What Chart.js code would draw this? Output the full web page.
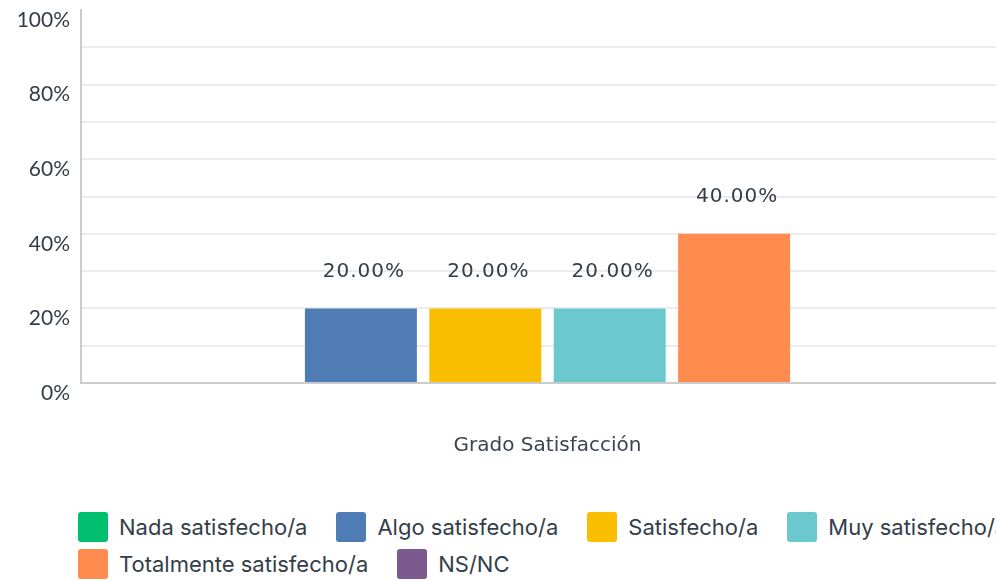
<!DOCTYPE html>
<html lang="es">
<head>
  <meta charset="UTF-8"/>
  <title>Grado Satisfacción</title>
  <style>
    html, body { margin: 0; padding: 0; background: #fff; overflow: hidden; }
    .wrap { position: relative; width: 1030px; height: 580px; }
    #chart { position: absolute; left: 0; top: 0; }
    .legend { position: absolute; left: 78px; top: 512px; width: 952px; display: flex; flex-wrap: wrap; row-gap: 7px; column-gap: 29px;
      font-family: Inter, 'Noto Sans', sans-serif; font-size: 22px; color: #333e48; }
    .legend .item { display: flex; align-items: center; height: 30px; white-space: nowrap; }
    .legend .box { width: 30px; height: 30px; border-radius: 3px; margin-right: 11px; }
  </style>
  <script src="https://cdn.jsdelivr.net/npm/chart.js"></script>
</head>
<body>
  <div class="wrap">
    <canvas id="chart" width="1030" height="458"></canvas>
    <div class="legend" id="legend"></div>
  </div>

  <script>
    const categories = ['Grado Satisfacción'];
    const seriesNames = ['Nada satisfecho/a', 'Algo satisfecho/a', 'Satisfecho/a', 'Muy satisfecho/a', 'Totalmente satisfecho/a', 'NS/NC'];
    const seriesValues = [0, 20, 20, 20, 40, 0];
    const seriesColors = ['#00bf6f', '#507cb6', '#f9be00', '#6bc8cd', '#ff8b4f', '#7d5a8d'];
    const yTicks = [0, 20, 40, 60, 80, 100];

    const textColor = '#333e48';

    // value labels above each bar
    const valueLabels = {
      id: 'valueLabels',
      afterDatasetsDraw(chart) {
        const ctx = chart.ctx;
        ctx.save();
        ctx.font = '20px "DejaVu Sans", sans-serif';
        ctx.letterSpacing = '1px';
        ctx.fillStyle = textColor;
        ctx.textAlign = 'center';
        ctx.textBaseline = 'middle';
        chart.data.datasets.forEach((ds, i) => {
          const v = ds.data[0];
          if (!v) return;
          const bar = chart.getDatasetMeta(i).data[0];
          ctx.fillText(v.toFixed(2) + '%', bar.x + 3, bar.y - 37);
        });
        ctx.restore();
      }
    };

    new Chart(document.getElementById('chart'), {
      type: 'bar',
      data: {
        labels: [''],
        datasets: seriesNames.map((name, i) => ({
          label: name,
          data: [seriesValues[i]],
          backgroundColor: seriesColors[i],
          borderWidth: 0,
          categoryPercentage: 0.8,
          barPercentage: 0.9
        }))
      },
      options: {
        responsive: false,
        animation: false,
        layout: { padding: { top: 10, right: 16, bottom: 0, left: 0 } },
        plugins: { legend: { display: false }, tooltip: { enabled: false } },
        scales: {
          x: {
            grid: { display: false },
            border: { color: '#cccccc', width: 2 },
            ticks: { display: false },
            title: {
              display: true,
              text: categories[0],
              color: '#3b4452',
              font: { family: '"DejaVu Sans", sans-serif', size: 20 },
              padding: { top: 0, bottom: 0 }
            },
            afterFit: s => { s.height = 75; }
          },
          y: {
            min: 0,
            max: 100,
            grid: {
              drawTicks: false,
              lineWidth: 2,
              color: c => c.tick && c.tick.value === 100 ? 'rgba(0,0,0,0)' : '#ececec'
            },
            border: { color: '#cccccc', width: 2 },
            ticks: {
              stepSize: 10,
              padding: 11,
              labelOffset: 10,
              color: textColor,
              font: { family: 'Lato, sans-serif', size: 21 },
              callback: v => yTicks.includes(v) ? v + '%' : ''
            },
            afterFit: s => { s.width = 81; s.paddingTop = 0; s.paddingBottom = 0; }
          }
        }
      },
      plugins: [valueLabels]
    });

    const legend = document.getElementById('legend');
    seriesNames.forEach((name, i) => {
      const item = document.createElement('div');
      item.className = 'item';
      item.innerHTML = '<span class="box" style="background:' + seriesColors[i] + '"></span><span>' + name + '</span>';
      legend.appendChild(item);
    });
  </script>
</body>
</html>
